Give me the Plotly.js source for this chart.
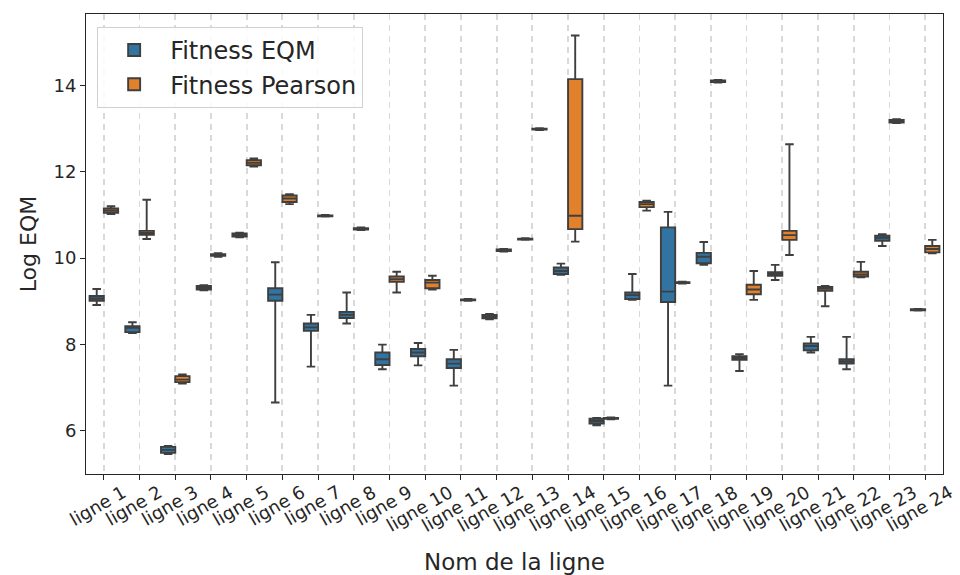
<!DOCTYPE html>
<html>
<head>
<meta charset="utf-8">
<script src="https://cdn.plot.ly/plotly-3.0.1.min.js"></script>
<style>html,body{margin:0;padding:0;background:#fff;}#chart{width:960px;height:575px;}</style>
</head>
<body>
<div id="chart"></div>
<script>
const categories = ["ligne 1","ligne 2","ligne 3","ligne 4","ligne 5","ligne 6","ligne 7","ligne 8","ligne 9","ligne 10","ligne 11","ligne 12","ligne 13","ligne 14","ligne 15","ligne 16","ligne 17","ligne 18","ligne 19","ligne 20","ligne 21","ligne 22","ligne 23","ligne 24"];

// Fitness EQM
const eqmLow    = [8.91, 8.26, 5.45, 9.25, 10.48, 6.65, 7.48, 8.48, 7.42, 7.51, 7.04, 8.58, 10.42, 9.61, 6.12, 9.03, 7.04, 9.84, 7.38, 9.49, 7.81, 7.42, 10.28, 8.78];
const eqmQ1     = [9.01, 8.28, 5.48, 9.27, 10.50, 9.01, 8.31, 8.61, 7.52, 7.72, 7.45, 8.60, 10.43, 9.63, 6.16, 9.05, 8.98, 9.88, 7.64, 9.59, 7.86, 7.55, 10.40, 8.79];
const eqmMedian = [9.06, 8.38, 5.55, 9.31, 10.53, 9.15, 8.39, 8.68, 7.65, 7.81, 7.55, 8.64, 10.44, 9.70, 6.22, 9.14, 9.22, 10.03, 7.68, 9.63, 7.96, 7.60, 10.47, 8.80];
const eqmQ3     = [9.12, 8.42, 5.62, 9.35, 10.57, 9.30, 8.48, 8.75, 7.81, 7.89, 7.65, 8.68, 10.45, 9.78, 6.27, 9.20, 10.71, 10.12, 7.72, 9.67, 8.02, 7.65, 10.52, 8.81];
const eqmHigh   = [9.28, 8.51, 5.64, 9.37, 10.59, 9.90, 8.68, 9.20, 7.99, 8.03, 7.87, 8.70, 10.46, 9.87, 6.29, 9.63, 11.07, 10.37, 7.77, 9.84, 8.17, 8.17, 10.55, 8.82];

// Fitness Pearson
const prsLow    = [11.02, 10.44, 7.09, 10.03, 12.12, 11.25, 10.96, 10.65, 9.20, 9.27, 9.01, 10.15, 12.97, 10.38, 6.26, 11.10, 9.41, 14.07, 9.03, 10.07, 8.88, 9.55, 13.13, 10.11];
const prsQ1     = [11.05, 10.54, 7.12, 10.05, 12.15, 11.30, 10.97, 10.66, 9.45, 9.30, 9.02, 10.16, 12.98, 10.67, 6.27, 11.18, 9.42, 14.08, 9.16, 10.42, 9.24, 9.57, 13.14, 10.13];
const prsMedian = [11.10, 10.58, 7.18, 10.07, 12.21, 11.38, 10.98, 10.67, 9.51, 9.43, 9.03, 10.18, 12.99, 10.98, 6.28, 11.25, 9.43, 14.10, 9.27, 10.53, 9.29, 9.62, 13.17, 10.21];
const prsQ3     = [11.15, 10.63, 7.26, 10.09, 12.27, 11.45, 10.99, 10.69, 9.57, 9.49, 9.04, 10.20, 13.00, 14.15, 6.29, 11.30, 9.44, 14.12, 9.38, 10.63, 9.33, 9.68, 13.20, 10.28];
const prsHigh   = [11.20, 11.35, 7.30, 10.11, 12.31, 11.48, 11.00, 10.71, 9.68, 9.59, 9.05, 10.21, 13.01, 15.16, 6.30, 11.33, 9.45, 14.13, 9.70, 12.64, 9.35, 9.91, 13.22, 10.42];

const seriesNames = ["Fitness EQM", "Fitness Pearson"];
const seriesColors = ["#3274a1", "#e1812c"];
const yTicks = [6, 8, 10, 12, 14];
const edge = "#3f3f3f";
const txt = "#262626";

function boxTrace(name, color, lo, q1, med, q3, hi) {
  return {
    type: "box",
    name: name,
    x: categories,
    lowerfence: lo, q1: q1, median: med, q3: q3, upperfence: hi,
    fillcolor: color,
    line: {color: edge, width: 1.9},
    whiskerwidth: 0.6,
    boxpoints: false,
    hoverinfo: "skip"
  };
}

const data = [
  boxTrace(seriesNames[0], seriesColors[0], eqmLow, eqmQ1, eqmMedian, eqmQ3, eqmHigh),
  boxTrace(seriesNames[1], seriesColors[1], prsLow, prsQ1, prsMedian, prsQ3, prsHigh)
];

// rotated category labels, centred under each tick (matplotlib style)
const tickAnnotations = categories.map(c => ({
  text: c, x: c, xref: "x", y: 0, yref: "paper",
  xanchor: "center", yanchor: "top", yshift: -4, xshift: -6,
  textangle: -30, showarrow: false,
  font: {size: 18, family: "DejaVu Sans", color: txt}
}));

const layout = {
  width: 960, height: 575,
  margin: {l: 86, r: 17, t: 14, b: 101},
  paper_bgcolor: "#fff", plot_bgcolor: "#fff",
  font: {family: "DejaVu Sans", color: txt, size: 18},
  boxmode: "group", boxgap: 0.2, boxgroupgap: 0,
  showlegend: true,
  legend: {
    x: 0.013, y: 0.972, xanchor: "left", yanchor: "top",
    bgcolor: "rgba(255,255,255,0.85)", bordercolor: "#d0d0d0", borderwidth: 1,
    font: {size: 24, family: "DejaVu Sans", color: txt},
    itemwidth: 62
  },
  annotations: tickAnnotations,
  xaxis: {
    type: "category",
    range: [-0.5, 23.5],
    showticklabels: false,
    ticks: "outside", ticklen: 5, tickcolor: txt,
    showline: true, linecolor: txt, linewidth: 1, mirror: true,
    showgrid: true, gridcolor: "#d9d9d9", gridwidth: 1.8, griddash: "6px,5px",
    zeroline: false,
    title: {text: "Nom de la ligne", font: {size: 23, family: "DejaVu Sans", color: txt}, standoff: 76}
  },
  yaxis: {
    range: [4.99, 15.66],
    tickvals: yTicks,
    ticktext: yTicks.map(String),
    tickfont: {size: 18, family: "DejaVu Sans", color: txt},
    ticks: "outside", ticklen: 5, tickcolor: txt,
    showline: true, linecolor: txt, linewidth: 1, mirror: true,
    showgrid: false, zeroline: false,
    title: {text: "Log EQM", font: {size: 22, family: "DejaVu Sans", color: txt}, standoff: 10}
  }
};

Plotly.newPlot("chart", data, layout, {displayModeBar: false, staticPlot: true});
</script>
</body>
</html>
